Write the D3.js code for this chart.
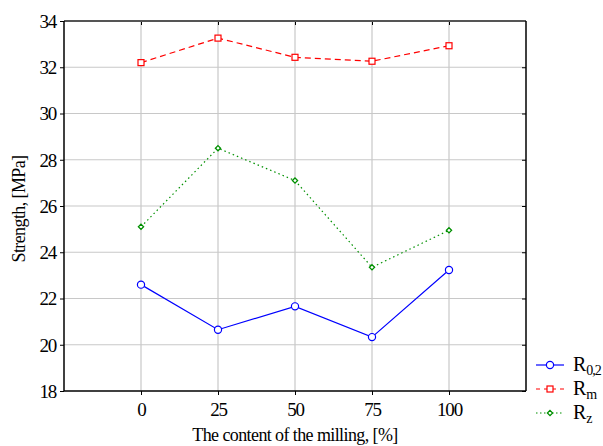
<!DOCTYPE html>
<html>
<head>
<meta charset="utf-8">
<script src="https://cdn.jsdelivr.net/npm/d3@7"></script>
<style>
  body { margin: 0; background: #fff; }
  text { font-family: "Liberation Serif", "DejaVu Serif", serif; fill: #000; }
</style>
</head>
<body>
<div id="chart"></div>
<script>
// Data
const milling = [0, 25, 50, 75, 100];
const r02 = [22.6, 20.65, 21.66, 20.33, 23.23];
const rm = [32.2, 33.26, 32.43, 32.26, 32.93];
const rz = [25.1, 28.5, 27.1, 23.35, 24.95];
const yTicks = [18, 20, 22, 24, 26, 28, 30, 32, 34];

const width = 603, height = 446;
const margin = { top: 21, right: 77, bottom: 55, left: 64 };
const w = width - margin.left - margin.right;
const h = height - margin.top - margin.bottom;

const svg = d3.select('#chart').append('svg')
    .attr('width', width)
    .attr('height', height);

const g = svg.append('g')
    .attr('transform', `translate(${margin.left},${margin.top})`);

const x = d3.scaleLinear().domain([-25, 125]).range([0, w]);
const y = d3.scaleLinear().domain([18, 34]).range([h, 0]);

// Grid
g.append('g').selectAll('line')
    .data(milling)
    .enter().append('line')
    .attr('x1', d => x(d)).attr('x2', d => x(d))
    .attr('y1', 0).attr('y2', h)
    .attr('stroke', '#c8c8c8').attr('stroke-width', 1.2);

g.append('g').selectAll('line')
    .data(yTicks.slice(1, -1))
    .enter().append('line')
    .attr('y1', d => y(d)).attr('y2', d => y(d))
    .attr('x1', 0).attr('x2', w)
    .attr('stroke', '#c8c8c8').attr('stroke-width', 1.2);

// Axes
const xAxis = g.append('g')
    .attr('transform', `translate(0,${h})`)
    .call(d3.axisBottom(x).tickValues(milling).tickSize(4).tickPadding(8));
xAxis.select('.domain').remove();
xAxis.selectAll('text').style('font-size', '19px').style('letter-spacing', '-1.2px')
    .style('font-family', '"Liberation Serif", serif');

const yAxis = g.append('g')
    .call(d3.axisLeft(y).tickValues(yTicks).tickSize(4).tickPadding(4));
yAxis.select('.domain').remove();
yAxis.selectAll('text').style('font-size', '19px').style('letter-spacing', '-1.2px')
    .attr('dy', '0.34em')
    .style('font-family', '"Liberation Serif", serif');

// inner ticks on top and right
g.append('g').call(d3.axisTop(x).tickValues(milling).tickSize(-4).tickFormat(''))
    .select('.domain').remove();
g.append('g').attr('transform', `translate(${w},0)`)
    .call(d3.axisRight(y).tickValues(yTicks).tickSize(-4).tickFormat(''))
    .select('.domain').remove();

// Frame
g.append('line').attr('x1', 0).attr('x2', w).attr('y1', 0).attr('y2', 0)
    .attr('stroke', '#555').attr('stroke-width', 2);
g.append('line').attr('x1', w).attr('x2', w).attr('y1', 0).attr('y2', h)
    .attr('stroke', '#000').attr('stroke-width', 1.5);
g.append('line').attr('x1', 0).attr('x2', 0).attr('y1', 0).attr('y2', h)
    .attr('stroke', '#000').attr('stroke-width', 1.5);
g.append('line').attr('x1', 0).attr('x2', w).attr('y1', h).attr('y2', h)
    .attr('stroke', '#000').attr('stroke-width', 1.5);

// Series
const series = [
    { name: 'R', sub: '0,2', values: r02, color: '#0000ff', dash: null, marker: 'circle' },
    { name: 'R', sub: 'm', values: rm, color: '#ff0000', dash: '6,4', marker: 'square' },
    { name: 'R', sub: 'z', values: rz, color: '#009000', dash: '1.5,3', marker: 'diamond' }
];

const line = d3.line()
    .x((d, i) => x(milling[i]))
    .y(d => y(d));

function drawMarker(sel, type, color) {
    if (type === 'circle') {
        sel.append('circle').attr('r', 3.6)
            .attr('fill', '#fff').attr('stroke', color).attr('stroke-width', 1.2);
    } else if (type === 'square') {
        sel.append('rect').attr('x', -3).attr('y', -3).attr('width', 6).attr('height', 6)
            .attr('fill', '#fff').attr('stroke', color).attr('stroke-width', 1.2);
    } else {
        sel.append('path').attr('d', 'M0,-2.6L2.6,0L0,2.6L-2.6,0Z')
            .attr('fill', '#fff').attr('stroke', color).attr('stroke-width', 1.3);
    }
}

series.forEach(s => {
    g.append('path')
        .datum(s.values)
        .attr('d', line)
        .attr('fill', 'none')
        .attr('stroke', s.color)
        .attr('stroke-width', 1.2)
        .attr('stroke-dasharray', s.dash);

    g.selectAll(null)
        .data(s.values)
        .enter().append('g')
        .attr('transform', (d, i) => `translate(${x(milling[i])},${y(d)})`)
        .each(function () { drawMarker(d3.select(this), s.marker, s.color); });
});

// Axis titles
svg.append('text')
    .attr('x', margin.left + x(50))
    .attr('y', 441)
    .attr('text-anchor', 'middle')
    .style('font-size', '18px')
    .style('letter-spacing', '-0.6px')
    .text('The content of the milling, [%]');

svg.append('text')
    .attr('transform', `translate(25,${margin.top + h / 2 + 3}) rotate(-90)`)
    .attr('text-anchor', 'middle')
    .style('font-size', '18px')
    .style('letter-spacing', '-0.6px')
    .text('Strength, [MPa]');

// Legend
const legend = svg.append('g').attr('transform', 'translate(536,365)');
series.forEach((s, i) => {
    const row = legend.append('g').attr('transform', `translate(0,${i * 24})`);
    row.append('line')
        .attr('x1', 0).attr('x2', 28)
        .attr('stroke', s.color).attr('stroke-width', 1.2)
        .attr('stroke-dasharray', s.dash ? (s.marker === 'square' ? '4,4' : '1.5,2.5') : null);
    const m = row.append('g').attr('transform', 'translate(14,0)');
    drawMarker(m, s.marker, s.color);
    const t = row.append('text').attr('x', 37).attr('y', 6).style('font-size', '20px');
    t.append('tspan').text(s.name);
    t.append('tspan').attr('dy', 4).style('font-size', '14px').style('letter-spacing', '-1px').text(s.sub);
});
</script>
</body>
</html>
